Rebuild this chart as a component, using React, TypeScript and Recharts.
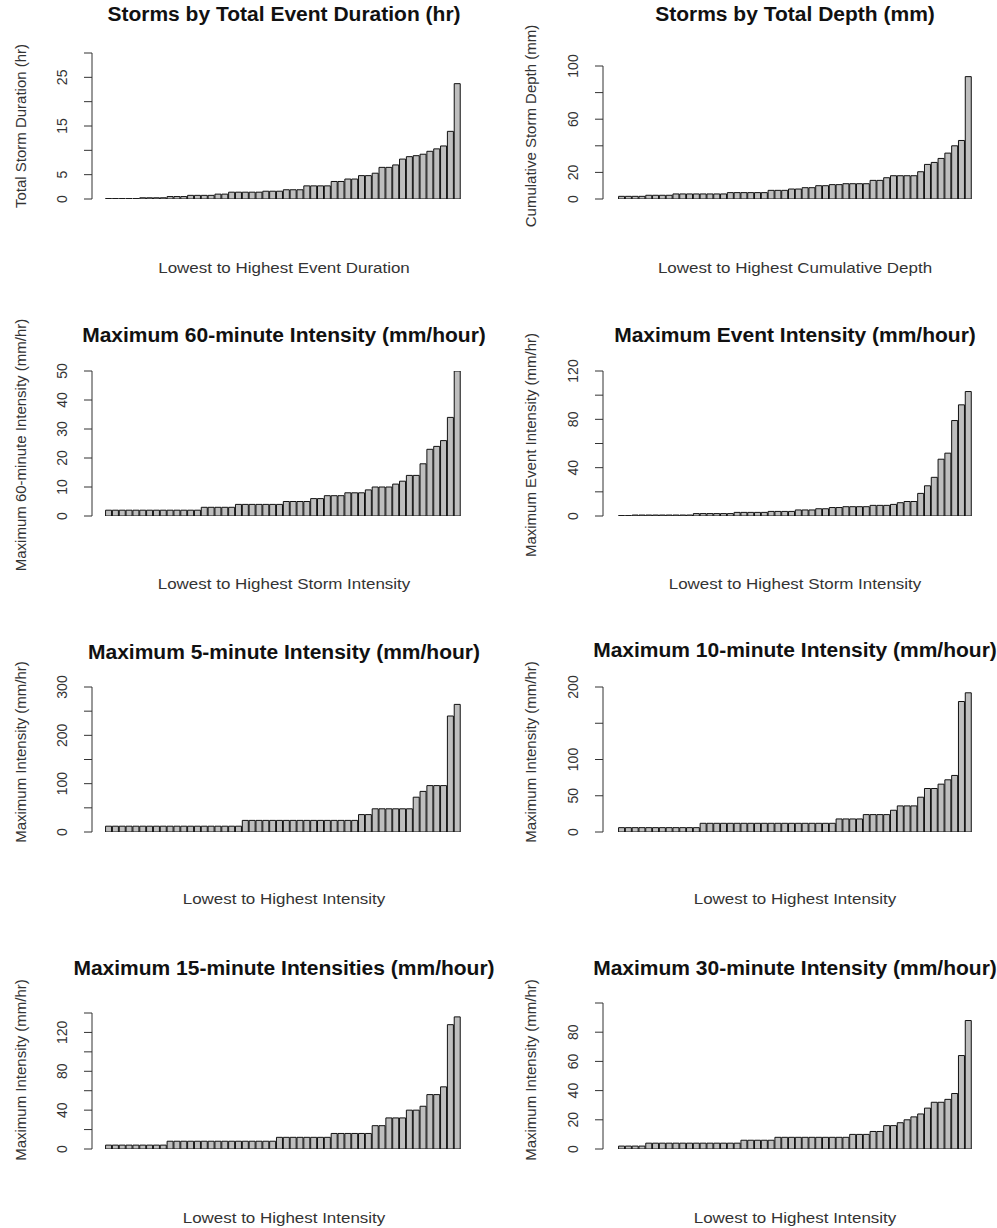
import React from "react";
import { BarChart, Bar, XAxis, YAxis } from "recharts";

// storms sorted lowest to highest, 52 events per panel
const durationHr = [
  0.08, 0.08, 0.08, 0.08, 0.08, 0.25, 0.25, 0.25, 0.25, 0.5, 0.5, 0.5, 0.75, 0.75, 0.75, 0.75,
  1.0, 1.0, 1.4, 1.4, 1.4, 1.4, 1.4, 1.6, 1.6, 1.6, 1.9, 1.9, 1.9, 2.7, 2.7, 2.7, 2.7,
  3.6, 3.6, 4.1, 4.1, 4.8, 4.8, 5.3, 6.5, 6.5, 7.0, 8.2, 8.7, 8.9, 9.2, 9.8, 10.3, 10.9, 13.9, 23.7,
];
const depthMm = [
  2, 2, 2, 2, 2.8, 2.8, 2.8, 2.8, 3.8, 3.8, 3.8, 3.8, 3.8, 3.8, 3.8, 3.8,
  4.8, 4.8, 4.8, 4.8, 4.8, 4.8, 6.5, 6.5, 6.5, 7.5, 7.5, 8.5, 8.5, 10, 10, 10.8, 10.8,
  11.5, 11.5, 11.5, 11.5, 14, 14, 16, 17.5, 17.5, 17.5, 17.5, 20.5, 26, 27.5, 30.5, 34.5, 40, 44, 92,
];
const int60 = [
  2, 2, 2, 2, 2, 2, 2, 2, 2, 2, 2, 2, 2, 2, 3, 3, 3, 3, 3, 4, 4, 4, 4, 4, 4, 4,
  5, 5, 5, 5, 6, 6, 7, 7, 7, 8, 8, 8, 9, 10, 10, 10, 11, 12, 14, 14, 18, 23, 24, 26, 34, 50,
];
const eventInt = [
  0.3, 0.3, 0.8, 0.8, 0.8, 0.8, 0.8, 0.8, 0.8, 0.8, 0.8, 2, 2, 2, 2, 2, 2, 3, 3, 3, 3, 3,
  3.8, 3.8, 3.8, 3.8, 5, 5, 5, 6, 6, 7, 7, 7.7, 7.7, 7.7, 7.7, 8.8, 8.8, 8.8, 9.6, 11, 12, 12,
  18.7, 25, 32, 47, 52, 79, 92, 103,
];
const int5 = [
  12, 12, 12, 12, 12, 12, 12, 12, 12, 12, 12, 12, 12, 12, 12, 12, 12, 12, 12, 12,
  24, 24, 24, 24, 24, 24, 24, 24, 24, 24, 24, 24, 24, 24, 24, 24, 24,
  36, 36, 48, 48, 48, 48, 48, 48, 72, 84, 96, 96, 96, 240, 264,
];
const int10 = [
  6, 6, 6, 6, 6, 6, 6, 6, 6, 6, 6, 6,
  12, 12, 12, 12, 12, 12, 12, 12, 12, 12, 12, 12, 12, 12, 12, 12, 12, 12, 12, 12,
  18, 18, 18, 18, 24, 24, 24, 24, 30, 36, 36, 36, 48, 60, 60, 66, 72, 78, 180, 192,
];
const int15 = [
  4, 4, 4, 4, 4, 4, 4, 4, 4,
  8, 8, 8, 8, 8, 8, 8, 8, 8, 8, 8, 8, 8, 8, 8, 8,
  12, 12, 12, 12, 12, 12, 12, 12, 16, 16, 16, 16, 16, 16,
  24, 24, 32, 32, 32, 40, 40, 44, 56, 56, 64, 128, 136,
];
const int30 = [
  2, 2, 2, 2, 4, 4, 4, 4, 4, 4, 4, 4, 4, 4, 4, 4, 4, 4, 6, 6, 6, 6, 6,
  8, 8, 8, 8, 8, 8, 8, 8, 8, 8, 8, 10, 10, 10, 12, 12, 16, 16,
  18, 20, 22, 24, 28, 32, 32, 34, 38, 64, 88,
];

const font = "'Liberation Sans', Arial, sans-serif";

interface PanelCfg {
  col: number;
  axisTop: number;
  baseline: number;
  max: number;
  ticks: number[];
  shown: number[];
  title: string;
  titleY: number;
  ylab: string;
  ylabY: number;
  xlab: string;
  xlabY: number;
  values: number[];
}

const panels: PanelCfg[] = [
  { col: 0, axisTop: 53, baseline: 199, max: 30, ticks: [0, 5, 10, 15, 20, 25, 30], shown: [0, 5, 15, 25],
    title: "Storms by Total Event Duration (hr)", titleY: 14, ylab: "Total Storm Duration (hr)", ylabY: 126,
    xlab: "Lowest to Highest Event Duration", xlabY: 267, values: durationHr },
  { col: 1, axisTop: 66, baseline: 199, max: 100, ticks: [0, 20, 40, 60, 80, 100], shown: [0, 20, 60, 100],
    title: "Storms by Total Depth (mm)", titleY: 14, ylab: "Cumulative Storm Depth (mm)", ylabY: 126,
    xlab: "Lowest to Highest Cumulative Depth", xlabY: 267, values: depthMm },
  { col: 0, axisTop: 371, baseline: 516, max: 50, ticks: [0, 10, 20, 30, 40, 50], shown: [0, 10, 20, 30, 40, 50],
    title: "Maximum 60-minute Intensity (mm/hour)", titleY: 335, ylab: "Maximum 60-minute Intensity (mm/hr)", ylabY: 445,
    xlab: "Lowest to Highest Storm Intensity", xlabY: 583, values: int60 },
  { col: 1, axisTop: 371, baseline: 516, max: 120, ticks: [0, 20, 40, 60, 80, 100, 120], shown: [0, 40, 80, 120],
    title: "Maximum Event Intensity (mm/hour)", titleY: 335, ylab: "Maximum Event Intensity (mm/hr)", ylabY: 445,
    xlab: "Lowest to Highest Storm Intensity", xlabY: 583, values: eventInt },
  { col: 0, axisTop: 687, baseline: 832, max: 300, ticks: [0, 50, 100, 150, 200, 250, 300], shown: [0, 100, 200, 300],
    title: "Maximum 5-minute Intensity (mm/hour)", titleY: 652, ylab: "Maximum Intensity (mm/hr)", ylabY: 752,
    xlab: "Lowest to Highest Intensity", xlabY: 898, values: int5 },
  { col: 1, axisTop: 687, baseline: 832, max: 200, ticks: [0, 50, 100, 150, 200], shown: [0, 50, 100, 200],
    title: "Maximum 10-minute Intensity (mm/hour)", titleY: 650, ylab: "Maximum Intensity (mm/hr)", ylabY: 752,
    xlab: "Lowest to Highest Intensity", xlabY: 898, values: int10 },
  { col: 0, axisTop: 1013, baseline: 1149, max: 140, ticks: [0, 20, 40, 60, 80, 100, 120, 140], shown: [0, 40, 80, 120],
    title: "Maximum 15-minute Intensities (mm/hour)", titleY: 968, ylab: "Maximum Intensity (mm/hr)", ylabY: 1070,
    xlab: "Lowest to Highest Intensity", xlabY: 1217, values: int15 },
  { col: 1, axisTop: 1003, baseline: 1149, max: 100, ticks: [0, 20, 40, 60, 80, 100], shown: [0, 20, 40, 60, 80],
    title: "Maximum 30-minute Intensity (mm/hour)", titleY: 968, ylab: "Maximum Intensity (mm/hr)", ylabY: 1070,
    xlab: "Lowest to Highest Intensity", xlabY: 1217, values: int30 },
];

const Text = ({ x, y, size, bold, rotate, sx = 1, children }: any) => (
  <div
    style={{
      position: "absolute",
      left: x,
      top: y,
      transform: `translate(-50%, -50%)${rotate ? " rotate(-90deg)" : ""} scaleX(${sx})`,
      whiteSpace: "nowrap",
      fontFamily: font,
      fontSize: size,
      fontWeight: bold ? 700 : 400,
      color: bold ? "#111" : "#333",
      lineHeight: 1,
    }}
  >
    {children}
  </div>
);

const Panel = ({ cfg }: { cfg: PanelCfg }) => {
  const colLeft = cfg.col === 0 ? 0 : 500;
  const axisX = cfg.col === 0 ? 92 : 603;
  const barEnd = cfg.col === 0 ? 460.5 : 971.5;
  const padLeft = cfg.col === 0 ? 13 : 15;
  const yw = 60;
  const mTop = 25;
  const mBottom = 6;
  const mRight = 8;
  const mLeft = axisX - colLeft - yw;
  const chartW = barEnd - colLeft + mRight;
  const chartH = cfg.baseline - cfg.axisTop + mTop + mBottom;
  const labelX = axisX - colLeft - 30;
  const titleX = cfg.col === 0 ? 284 : 795;
  const ylabX = cfg.col === 0 ? 20 : 530;
  const data = cfg.values.map((v, i) => ({ rank: i + 1, value: v }));

  const renderTick = (p: any) => {
    const v = p.payload.value;
    if (!cfg.shown.includes(v)) return <g />;
    return (
      <text
        x={labelX}
        y={p.y}
        transform={`rotate(-90 ${labelX} ${p.y})`}
        textAnchor="middle"
        dominantBaseline="central"
        fontFamily={font}
        fontSize={14}
        fill="#333"
      >
        {v}
      </text>
    );
  };

  return (
    <>
      <Text x={titleX} y={cfg.titleY} size={20} sx={1.05} bold>{cfg.title}</Text>
      <Text x={ylabX} y={cfg.ylabY} size={15} rotate>{cfg.ylab}</Text>
      <Text x={titleX} y={cfg.xlabY} size={15} sx={1.13}>{cfg.xlab}</Text>
      <div style={{ position: "absolute", left: colLeft, top: cfg.axisTop - mTop }}>
        <BarChart
          width={chartW}
          height={chartH}
          data={data}
          margin={{ top: mTop, right: mRight, bottom: mBottom, left: mLeft }}
          barCategoryGap="8.3%"
        >
          <XAxis dataKey="rank" hide padding={{ left: padLeft, right: 0 }} />
          <YAxis
            type="number"
            width={yw}
            domain={[0, cfg.max]}
            ticks={cfg.ticks}
            interval={0}
            allowDataOverflow
            tickSize={8}
            stroke="#333"
            tick={renderTick}
          />
          <Bar dataKey="value" fill="#bebebe" stroke="#111" strokeWidth={1} isAnimationActive={false} />
        </BarChart>
      </div>
    </>
  );
};

export default function App() {
  return (
    <div style={{ position: "absolute", left: 0, top: 0, width: 997, height: 1228, background: "#fff" }}>
      {panels.map((p, i) => (
        <Panel key={i} cfg={p} />
      ))}
    </div>
  );
}
